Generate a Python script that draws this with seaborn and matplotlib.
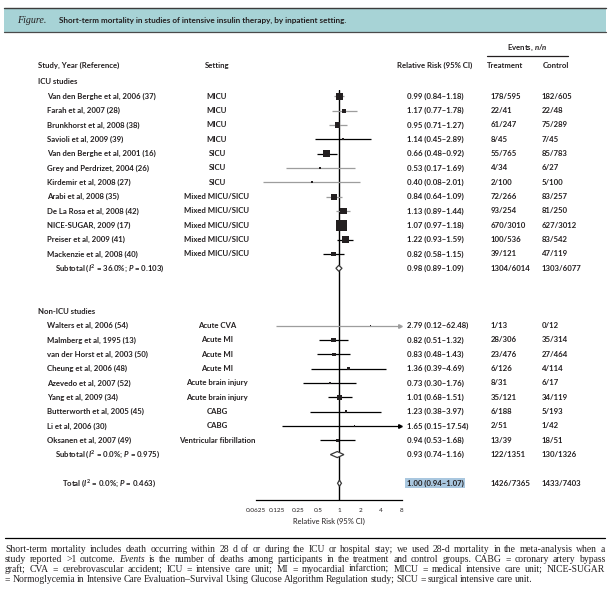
import numpy as np
import pandas as pd
import seaborn as sns
import matplotlib
matplotlib.use("Agg")
import matplotlib.pyplot as plt
from matplotlib.lines import Line2D
from matplotlib.patches import Rectangle
from matplotlib.ticker import NullLocator
from matplotlib.transforms import blended_transform_factory

# ICU studies
icu_study = ["Van den Berghe et al, 2006 (37)", "Farah et al, 2007 (28)",
             "Brunkhorst et al, 2008 (38)", "Savioli et al, 2009 (39)",
             "Van den Berghe et al, 2001 (16)", "Grey and Perdrizet, 2004 (26)",
             "Kirdemir et al, 2008 (27)", "Arabi et al, 2008 (35)",
             "De La Rosa et al, 2008 (42)", "NICE-SUGAR, 2009 (17)",
             "Preiser et al, 2009 (41)", "Mackenzie et al, 2008 (40)"]
icu_setting = ["MICU", "MICU", "MICU", "MICU", "SICU", "SICU", "SICU",
               "Mixed MICU/SICU", "Mixed MICU/SICU", "Mixed MICU/SICU",
               "Mixed MICU/SICU", "Mixed MICU/SICU"]
icu_rr = [0.99, 1.17, 0.95, 1.14, 0.66, 0.53, 0.40, 0.84, 1.13, 1.07, 1.22, 0.82]
icu_lo = [0.84, 0.77, 0.71, 0.45, 0.48, 0.17, 0.08, 0.64, 0.89, 0.97, 0.93, 0.58]
icu_hi = [1.18, 1.78, 1.27, 2.89, 0.92, 1.69, 2.01, 1.09, 1.44, 1.18, 1.59, 1.15]
icu_treat = ["178/595", "22/41", "61/247", "8/45", "55/765", "4/34", "2/100",
             "72/266", "93/254", "670/3010", "100/536", "39/121"]
icu_ctrl = ["182/605", "22/48", "75/289", "7/45", "85/783", "6/27", "5/100",
            "83/257", "81/250", "627/3012", "83/542", "47/119"]
icu_weight = [9.2, 3.1, 5.1, 0.6, 9.2, 0.6, 0.6, 7.6, 9.2, 25.4, 7.6, 4.1]

# Non-ICU studies
non_study = ["Walters et al, 2006 (54)", "Malmberg et al, 1995 (13)",
             "van der Horst et al, 2003 (50)", "Cheung et al, 2006 (48)",
             "Azevedo et al, 2007 (52)", "Yang et al, 2009 (34)",
             "Butterworth et al, 2005 (45)", "Li et al, 2006 (30)",
             "Oksanen et al, 2007 (49)"]
non_setting = ["Acute CVA", "Acute MI", "Acute MI", "Acute MI",
               "Acute brain injury", "Acute brain injury", "CABG", "CABG",
               "Ventricular fibrillation"]
non_rr = [2.79, 0.82, 0.83, 1.36, 0.73, 1.01, 1.23, 1.65, 0.94]
non_lo = [0.12, 0.51, 0.48, 0.39, 0.30, 0.68, 0.38, 0.15, 0.53]
non_hi = [62.48, 1.32, 1.43, 4.69, 1.76, 1.51, 3.97, 17.54, 1.68]
non_treat = ["1/13", "28/306", "23/476", "6/126", "8/31", "35/121", "6/188",
             "2/51", "13/39"]
non_ctrl = ["0/12", "35/314", "27/464", "4/114", "6/17", "34/119", "5/193",
            "1/42", "18/51"]
non_weight = [0.3, 4.1, 2.3, 2.3, 1.0, 4.1, 1.0, 0.6, 2.3]

# pooled estimates: ICU subtotal, non-ICU subtotal, total
pool_label = ["Subtotal ($\\mathit{I}^2$ = 36.0%; $\\mathit{P}$ = 0.103)",
              "Subtotal ($\\mathit{I}^2$ = 0.0%; $\\mathit{P}$ = 0.975)",
              "Total ($\\mathit{I}^2$ = 0.0%; $\\mathit{P}$ = 0.463)"]
pool_rr = [0.98, 0.93, 1.00]
pool_lo = [0.89, 0.74, 0.94]
pool_hi = [1.09, 1.16, 1.07]
pool_treat = ["1304/6014", "122/1351", "1426/7365"]
pool_ctrl = ["1303/6077", "130/1326", "1433/7403"]

tick_vals = [0.0625, 0.125, 0.25, 0.5, 1, 2, 4, 8]
tick_labels = ["0.0625", "0.125", "0.25", "0.5", "1", "2", "4", "8"]

footnote = [
    "Short-term mortality includes death occurring within 28 d of or during the ICU or hospital stay; we used 28-d mortality in the meta-analysis when a",
    "study reported >1 outcome. *Events* is the number of deaths among participants in the treatment and control groups. CABG = coronary artery bypass",
    "graft; CVA = cerebrovascular accident; ICU = intensive care unit; MI = myocardial infarction; MICU = medical intensive care unit; NICE-SUGAR",
    "= Normoglycemia in Intensive Care Evaluation\u2013Survival Using Glucose Algorithm Regulation study; SICU = surgical intensive care unit.",
]

# ---- fonts / style ----
sns.set_style("white")
SANS = "Lato"
plt.rcParams["font.family"] = [SANS, "DejaVu Sans"]
plt.rcParams["font.weight"] = "bold"
plt.rcParams["mathtext.fontset"] = "custom"
plt.rcParams["mathtext.rm"] = SANS + ":bold"
plt.rcParams["mathtext.it"] = SANS + ":italic:bold"
INK = "#231f20"
LIGHT = "#9d9d9d"
FS = 5.6

# ---- data frames ----
icu = pd.DataFrame({"study": icu_study, "setting": icu_setting, "rr": icu_rr,
                    "lo": icu_lo, "hi": icu_hi, "treat": icu_treat,
                    "ctrl": icu_ctrl, "weight": icu_weight})
icu["row"] = np.arange(1, len(icu) + 1)
non = pd.DataFrame({"study": non_study, "setting": non_setting, "rr": non_rr,
                    "lo": non_lo, "hi": non_hi, "treat": non_treat,
                    "ctrl": non_ctrl, "weight": non_weight})
non["row"] = np.arange(17, 17 + len(non))
studies = pd.concat([icu, non], ignore_index=True)
pool = pd.DataFrame({"label": pool_label, "rr": pool_rr, "lo": pool_lo,
                     "hi": pool_hi, "treat": pool_treat, "ctrl": pool_ctrl,
                     "row": [13, 26, 28]})

# lines that render light grey in the reference
light_lines = {"Van den Berghe et al, 2006 (37)", "Farah et al, 2007 (28)",
               "Brunkhorst et al, 2008 (38)", "Grey and Perdrizet, 2004 (26)",
               "Kirdemir et al, 2008 (27)", "Arabi et al, 2008 (35)",
               "De La Rosa et al, 2008 (42)", "Walters et al, 2006 (54)"}

# ---- layout (pixel helpers) ----
W, H = 610, 593
fig = plt.figure(figsize=(W / 100, H / 100), dpi=100)
def fx(px):
    return px / W
def fy(py):
    return 1 - py / H

ROW = 14.33
Y0 = 82
top_row, bot_row = 0.55, 29.2
top_px, bot_px = Y0 + top_row * ROW, Y0 + bot_row * ROW
ax = fig.add_axes([fx(256), fy(bot_px), fx(402) - fx(256), (bot_px - top_px) / H])
ax.set_xscale("log", base=2)
ax.set_xlim(0.0625, 8)
ax.set_ylim(bot_row, top_row)

# reference line
ax.axvline(1, color="black", lw=1.0, zorder=1)

# confidence intervals
CLIP = 7.55
for r in studies.itertuples():
    c = LIGHT if r.study in light_lines else "black"
    ax.plot([r.lo, min(r.hi, CLIP)], [r.row, r.row], color=c, lw=0.9,
            solid_capstyle="butt", zorder=2)
    if r.hi > CLIP:
        ax.plot(CLIP, r.row, marker=">", ms=2.6, color=c, mec=c, zorder=2)

# weighted boxes
sns.scatterplot(data=studies, x="rr", y="row", size="weight", sizes=(0, 68),
                size_norm=(0, 25.4), marker="s", color=INK, linewidth=0,
                legend=False, ax=ax, zorder=3)

# pooled diamonds
for r in pool.itertuples():
    h = 0.21
    ax.fill([r.lo, r.rr, r.hi, r.rr], [r.row, r.row - h, r.row, r.row + h],
            facecolor="white", edgecolor="#3a3a3a", lw=0.9, zorder=4)

# axis styling
for s in ["top", "left", "right"]:
    ax.spines[s].set_visible(False)
ax.spines["bottom"].set_color("black")
ax.spines["bottom"].set_linewidth(0.9)
ax.set_yticks([])
ax.set_xticks(tick_vals)
ax.set_xticklabels(tick_labels, fontweight="normal")
ax.xaxis.set_minor_locator(NullLocator())
ax.tick_params(axis="x", length=3.5, width=0.9, pad=2.2, labelsize=4.6,
               colors="black", labelcolor=INK)
ax.set_xlabel("Relative Risk (95% CI)", fontsize=5.4, color=INK, labelpad=3.0)
ax.set_ylabel("")
ax.patch.set_alpha(0)

# ---- text columns ----
tr = blended_transform_factory(fig.transFigure, ax.transData)
def put(px, row, s, ha="left", **kw):
    kw.setdefault("fontsize", FS)
    kw.setdefault("color", INK)
    return ax.text(fx(px), row, s, transform=tr, ha=ha, va="center",
                   clip_on=False, **kw)

put(38, -1.15, "Study, Year (Reference)")
put(217, -1.15, "Setting", ha="center")
put(435, -1.15, "Relative Risk (95% CI)", ha="center")
put(487, -1.15, "Treatment")
put(543, -1.15, "Control")
put(527, -2.35, "Events, $\\mathit{n/n}$", ha="center")
ax.add_line(Line2D([fx(487), fx(568)], [-1.8, -1.8], transform=tr,
                   color=INK, lw=0.9, clip_on=False))

put(38, 0, "ICU studies")
put(38, 16, "Non-ICU studies")
for r in studies.itertuples():
    put(47, r.row, r.study)
    put(217, r.row, r.setting, ha="center")
    put(407, r.row, f"{r.rr:.2f} ({r.lo:.2f}\u2013{r.hi:.2f})")
    put(491, r.row, r.treat)
    put(542, r.row, r.ctrl)
for i, r in enumerate(pool.itertuples()):
    put(62 if i == 2 else 55, r.row, r.label)
    bb = dict(facecolor="#a9c7df", edgecolor="none", pad=1.2) if i == 2 else None
    put(407, r.row, f"{r.rr:.2f} ({r.lo:.2f}\u2013{r.hi:.2f})", bbox=bb)
    put(491, r.row, r.treat)
    put(542, r.row, r.ctrl)

# ---- title band ----
fig.patches.append(Rectangle((fx(4), fy(32)), fx(606) - fx(4), (32 - 8) / H,
                             transform=fig.transFigure, facecolor="#a7d3d6",
                             edgecolor="none", zorder=0))
fig.lines.append(Line2D([fx(4), fx(606)], [fy(8), fy(8)], transform=fig.transFigure,
                        color="#3c3c3c", lw=1.0))
fig.lines.append(Line2D([fx(4), fx(606)], [fy(32), fy(32)], transform=fig.transFigure,
                        color="#4a4a4a", lw=0.9))
fig.text(fx(17), fy(23), "Figure.", family="Liberation Serif", style="italic",
         weight="normal", fontsize=7.2, color=INK, va="baseline")
fig.text(fx(59), fy(23),
         "Short-term mortality in studies of intensive insulin therapy, by inpatient setting.",
         fontsize=5.9, color=INK, va="baseline")

# ---- footnote ----
fig.lines.append(Line2D([fx(5), fx(605)], [fy(538), fy(538)], transform=fig.transFigure,
                        color="black", lw=0.9))
renderer = fig.canvas.get_renderer()
x_left, x_right = 5, 605
for k, line in enumerate(footnote):
    y = fy(552 + 10 * k)
    words = line.split(" ")
    texts, widths = [], []
    for w in words:
        ital = w.startswith("*")
        t = fig.text(0, y, w.strip("*"), family="Liberation Serif", fontsize=6.9,
                     weight="normal", style="italic" if ital else "normal",
                     color=INK, va="baseline")
        texts.append(t)
        widths.append(t.get_window_extent(renderer).width)
    if k < len(footnote) - 1:
        gap = ((x_right - x_left) - sum(widths)) / (len(words) - 1)
    else:
        gap = 1.9
    x = x_left
    for t, w in zip(texts, widths):
        t.set_x(fx(x))
        x += w + gap

fig.savefig("out.png", dpi=100)
